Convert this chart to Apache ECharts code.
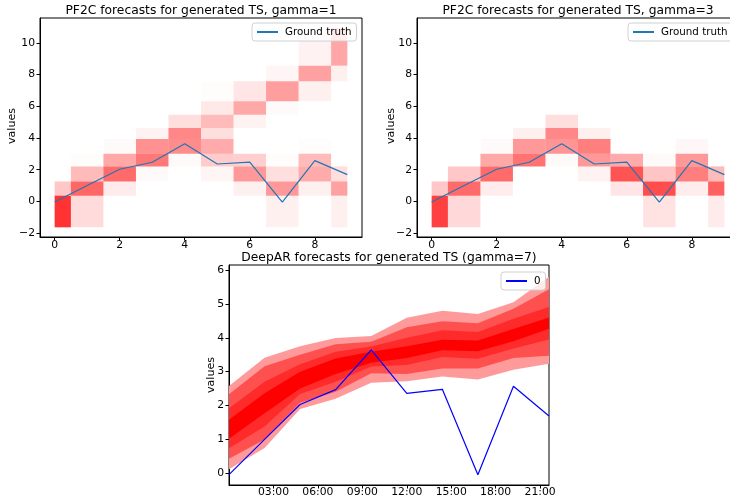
<!DOCTYPE html>
<html>
<head>
<meta charset="utf-8">
<script src="https://cdn.jsdelivr.net/npm/echarts@6/dist/echarts.min.js"></script>
<style>
html,body{margin:0;padding:0;background:#fff;}
#chart{width:730px;height:502px;}
</style>
</head>
<body>
<div id="chart"></div>
<script>
// ---------------- data ----------------
// time index of the generated series
const steps = [0, 1, 2, 3, 4, 5, 6, 7, 8, 9];
// ground truth values
const truth = [-0.04, 1.0, 2.03, 2.47, 3.64, 2.36, 2.48, -0.04, 2.57, 1.69];
// heatmap column edges (x) and value-bin edges (y)
const colEdges = [0, 0.5, 1.5, 2.5, 3.5, 4.5, 5.5, 6.5, 7.5, 8.5, 9];
const binEdges = [-1.64, 0.36, 1.26, 2.21, 3.01, 3.94, 4.63, 5.47, 6.32, 7.58, 8.57, 10.95];
// probability mass per column (rows) and bin (cols, low -> high), gamma = 1
const densGamma1 = [
  [0.80, 0.22, 0, 0, 0, 0, 0, 0, 0, 0, 0],
  [0.14, 0.60, 0.27, 0.01, 0, 0, 0, 0, 0, 0, 0],
  [0, 0.08, 0.58, 0.34, 0.02, 0, 0, 0, 0, 0, 0],
  [0, 0, 0.02, 0.53, 0.43, 0.05, 0, 0, 0, 0, 0],
  [0, 0, 0, 0.02, 0.45, 0.47, 0.13, 0, 0, 0, 0],
  [0, 0, 0.04, 0.20, 0.33, 0.13, 0.27, 0.09, 0.01, 0, 0],
  [0, 0.06, 0.40, 0.19, 0, 0, 0.05, 0.34, 0.10, 0, 0],
  [0.06, 0.40, 0.13, 0.01, 0, 0, 0, 0.02, 0.38, 0.04, 0],
  [0, 0.06, 0.33, 0.27, 0.01, 0, 0, 0, 0.06, 0.37, 0.05],
  [0.06, 0.37, 0.13, 0, 0, 0, 0, 0, 0, 0.06, 0.35]
];
// gamma = 3
const densGamma3 = [
  [0.75, 0.22, 0, 0, 0, 0, 0, 0, 0, 0, 0],
  [0.15, 0.58, 0.22, 0, 0, 0, 0, 0, 0, 0, 0],
  [0, 0.07, 0.58, 0.34, 0.02, 0, 0, 0, 0, 0, 0],
  [0, 0, 0, 0.55, 0.40, 0.06, 0, 0, 0, 0, 0],
  [0, 0, 0, 0.02, 0.42, 0.47, 0.13, 0, 0, 0, 0],
  [0, 0, 0.05, 0.40, 0.50, 0.06, 0, 0, 0, 0, 0],
  [0, 0.10, 0.67, 0.33, 0, 0, 0, 0, 0, 0, 0],
  [0.11, 0.70, 0.23, 0.02, 0, 0, 0, 0, 0, 0, 0],
  [0, 0.07, 0.50, 0.40, 0.03, 0, 0, 0, 0, 0, 0],
  [0.08, 0.62, 0.27, 0, 0, 0, 0, 0, 0, 0, 0]
];
// DeepAR: hours of the forecast steps and quantile bands
const hours = [0, 2.4, 4.8, 7.2, 9.6, 12, 14.4, 16.8, 19.2, 21.6];
const outerLo = [0.12, 0.75, 1.90, 2.20, 2.67, 2.72, 2.86, 2.77, 3.06, 3.23];
const outerHi = [2.58, 3.41, 3.75, 3.99, 4.05, 4.59, 4.80, 4.70, 5.05, 5.80];
const band2Lo = [0.43, 1.00, 2.08, 2.41, 2.95, 2.93, 3.09, 3.09, 3.40, 3.47];
const band2Hi = [2.33, 3.16, 3.50, 3.81, 3.88, 4.31, 4.49, 4.43, 4.86, 5.43];
const band3Lo = [0.74, 1.38, 2.34, 2.70, 3.15, 3.20, 3.43, 3.38, 3.68, 3.95];
const band3Hi = [1.92, 2.70, 3.22, 3.59, 3.74, 4.00, 4.22, 4.17, 4.56, 4.91];
const band4Lo = [1.02, 1.77, 2.50, 2.93, 3.26, 3.40, 3.63, 3.60, 3.90, 4.27];
const band4Hi = [1.58, 2.36, 3.00, 3.39, 3.59, 3.75, 3.94, 3.92, 4.26, 4.60];
// tick labels
const xTicksTop = [0, 2, 4, 6, 8];
const yTicksTop = [-2, 0, 2, 4, 6, 8, 10];
const xTicksHours = [3, 6, 9, 12, 15, 18, 21];
const yTicksBottom = [0, 1, 2, 3, 4, 5, 6];

// ---------------- chart ----------------
const FONT = 'DejaVu Sans';
const TICK = 10.8;
const LEG = 10.3;
const chart = echarts.init(document.getElementById('chart'), null, {renderer: 'canvas'});

function minus(v) { return v < 0 ? '\u2212' + Math.abs(v) : String(v); }

function cellData(dens) {
  const out = [];
  for (let c = 0; c < dens.length; c++) {
    for (let b = 0; b < dens[c].length; b++) {
      if (dens[c][b] > 0) out.push([colEdges[c], binEdges[b], colEdges[c + 1], binEdges[b + 1], dens[c][b]]);
    }
  }
  return out;
}
function renderCell(params, api) {
  const p0 = api.coord([api.value(0), api.value(1)]);
  const p1 = api.coord([api.value(2), api.value(3)]);
  return {
    type: 'rect',
    shape: {x: p0[0], y: p1[1], width: p1[0] - p0[0], height: p0[1] - p1[1]},
    style: {fill: 'rgba(255,0,0,' + api.value(4) + ')'}
  };
}

function axisCommon(ticks, fmt, margin) {
  return {
    splitLine: {show: false},
    axisLine: {show: true, onZero: false, lineStyle: {color: '#000', width: 1}},
    axisTick: {show: true, length: 3.5, customValues: ticks, lineStyle: {color: '#000', width: 1}},
    axisLabel: {customValues: ticks, formatter: fmt, margin: margin, color: '#000', fontSize: TICK, fontFamily: FONT}
  };
}
const hhmm = v => (v < 10 ? '0' : '') + v + ':00';

function gridBox(left, top, width, height) {
  return {left, top, width, height, show: true, borderColor: '#000', borderWidth: 1,
          backgroundColor: 'transparent', containLabel: false, outerBoundsMode: 'none'};
}

const legendCommon = {
  orient: 'horizontal',
  backgroundColor: 'rgba(255,255,255,0.8)',
  borderColor: '#d0d0d0',
  borderWidth: 1,
  borderRadius: 3,
  padding: [4, 5, 4, 4],
  itemWidth: 21,
  itemHeight: 10,
  itemStyle: {opacity: 0},
  textStyle: {fontSize: LEG, fontFamily: FONT, color: '#000', padding: [0, 0, 0, 2]}
};

function renderBand(color) {
  return function (params, api) {
    if (params.dataIndexInside !== 0) return null;
    const n = params.dataInsideLength;
    const up = [], dn = [];
    for (let j = 0; j < n; j++) {
      up.push(api.coord([api.value(0, j), api.value(2, j)]));
      dn.push(api.coord([api.value(0, j), api.value(1, j)]));
    }
    return {type: 'polygon', shape: {points: up.concat(dn.reverse())}, style: {fill: color}};
  };
}
function band(lo, hi, color, key) {
  return {type: 'custom', name: key, xAxisIndex: 2, yAxisIndex: 2, clip: true, silent: true,
          renderItem: renderBand(color), encode: {x: 0, y: [1, 2]},
          data: hours.map((h, i) => [h, lo[i], hi[i]])};
}

const titleFont = 'normal 12.3px "DejaVu Sans"';
const labFont = 'normal 11px "DejaVu Sans"';
function gtext(txt, x, y, font, rot) {
  return {type: 'text', x: x, y: y, rotation: rot || 0, silent: true,
          style: {text: txt, font: font, fill: '#000', align: 'center', verticalAlign: 'middle',
                  textAlign: 'center', textVerticalAlign: 'middle'}};
}

const option = {
  animation: false,
  backgroundColor: '#fff',
  graphic: [
    gtext('PF2C forecasts for generated TS, gamma=1', 201, 11, titleFont),
    gtext('PF2C forecasts for generated TS, gamma=3', 578, 11, titleFont),
    gtext('DeepAR forecasts for generated TS (gamma=7)', 389, 258, titleFont),
    gtext('values', 12.5, 126, labFont, Math.PI / 2),
    gtext('values', 391, 126, labFont, Math.PI / 2),
    gtext('values', 211.5, 375, labFont, Math.PI / 2)
  ],
  grid: [
    gridBox(40, 18, 322, 219),
    gridBox(417, 18, 322, 219),
    gridBox(229, 265, 320, 220)
  ],
  xAxis: [
    Object.assign({gridIndex: 0, type: 'value', min: -0.45, max: 9.45}, axisCommon(xTicksTop, minus, 3)),
    Object.assign({gridIndex: 1, type: 'value', min: -0.45, max: 9.45}, axisCommon(xTicksTop, minus, 3)),
    Object.assign({gridIndex: 2, type: 'value', min: 0, max: 21.6}, axisCommon(xTicksHours, hhmm, 2))
  ],
  yAxis: [
    Object.assign({gridIndex: 0, type: 'value', min: -2.25, max: 11.58}, axisCommon(yTicksTop, minus, 5)),
    Object.assign({gridIndex: 1, type: 'value', min: -2.25, max: 11.58}, axisCommon(yTicksTop, minus, 5)),
    Object.assign({gridIndex: 2, type: 'value', min: -0.345, max: 6.148}, axisCommon(yTicksBottom, minus, 5))
  ],
  legend: [
    Object.assign({left: 252, top: 23, data: ['Ground truth']}, legendCommon),
    Object.assign({left: 628, top: 23, data: ['Ground truth']}, legendCommon),
    Object.assign({left: 501, top: 272, data: ['0']}, legendCommon)
  ],
  series: [
    {type: 'custom', name: 'gamma1', xAxisIndex: 0, yAxisIndex: 0, renderItem: renderCell, clip: true,
     encode: {x: [0, 2], y: [1, 3]}, data: cellData(densGamma1), silent: true},
    {type: 'line', name: 'Ground truth', xAxisIndex: 0, yAxisIndex: 0, symbol: 'none',
     color: '#1f77b4', lineStyle: {color: '#1f77b4', width: 1.2},
     data: steps.map((s, i) => [s, truth[i]])},
    {type: 'custom', name: 'gamma3', xAxisIndex: 1, yAxisIndex: 1, renderItem: renderCell, clip: true,
     encode: {x: [0, 2], y: [1, 3]}, data: cellData(densGamma3), silent: true},
    {type: 'line', name: 'Ground truth', xAxisIndex: 1, yAxisIndex: 1, symbol: 'none',
     color: '#1f77b4', lineStyle: {color: '#1f77b4', width: 1.2},
     data: steps.map((s, i) => [s, truth[i]])},
    band(outerLo, outerHi, '#ff9a9a', 'b1'),
    band(band2Lo, band2Hi, '#ff5050', 'b2'),
    band(band3Lo, band3Hi, '#ff2a2a', 'b3'),
    band(band4Lo, band4Hi, '#ff0000', 'b4'),
    {type: 'line', name: '0', xAxisIndex: 2, yAxisIndex: 2, symbol: 'none',
     color: '#0000ff', lineStyle: {color: '#0000ff', width: 1.2},
     data: hours.map((h, i) => [h, truth[i]])}
  ]
};
chart.setOption(option);
</script>
</body>
</html>
